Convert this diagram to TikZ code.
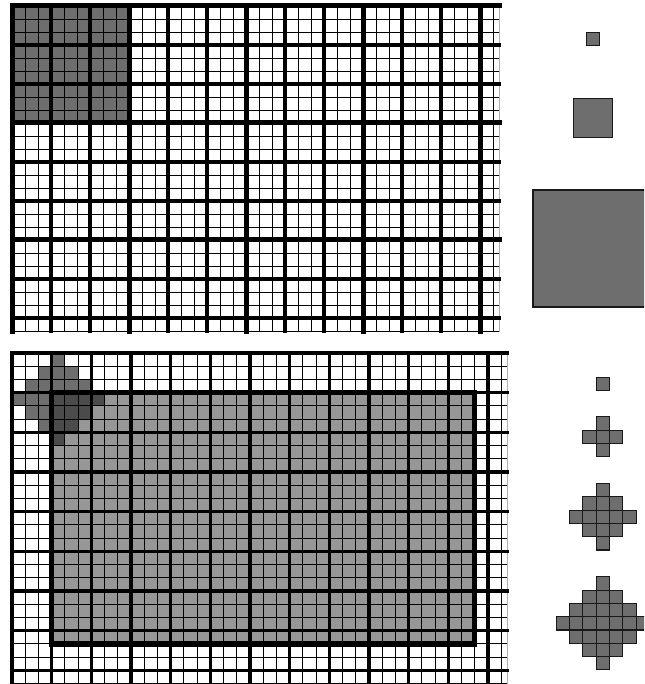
\documentclass[tikz,border=0pt]{standalone}
\definecolor{gtop}{HTML}{6E6E6E}
\definecolor{grect}{HTML}{979797}
\definecolor{gdark}{HTML}{4B4B4B}
\definecolor{gedge}{HTML}{B0B0B0}
\newcommand\bcell{13.22}
\newcommand\tcell{13}
\newcommand\rcell{13.3}
\newcommand\diacells[4]{% cx cy radius cell
  \foreach \a in {-#3,...,#3}{
    \foreach \b in {-#3,...,#3}{
      \pgfmathtruncatemacro\dd{abs(\a)+abs(\b)}
      \ifnum\dd>#3\relax\else
        \filldraw[shp] ({#1+(\a-0.5)*#4},{#2+(\b-0.5)*#4}) rectangle ({#1+(\a+0.5)*#4},{#2+(\b+0.5)*#4});
      \fi
    }
  }
}
\begin{document}
\begin{tikzpicture}[x=1pt,y=-1pt,line cap=rect,
  thinln/.style={line width=0.9pt,black},
  medln/.style={line width=3.2pt,black},
  thkln/.style={line width=5pt,black},
  edgeln/.style={line width=1pt,gedge},
  rectln/.style={line width=5.5pt,black},
  shp/.style={fill=gtop,draw=black!90,line width=1.1pt}]
\useasboundingbox (0,0) rectangle (644,684);
\clip (0,0) rectangle (644,684);
\fill[white] (0,0) rectangle (644,684);

% ---------- top grid ----------
\fill[gtop] (12,6) rectangle (129,123);
\foreach \k in {0,...,37} \draw[thinln] ({12+\tcell*\k},6) -- ({12+\tcell*\k},331);
\draw[edgeln] (499,6) -- (499,331);
\foreach \k in {0,...,25} \draw[thinln] (12,{6+\tcell*\k}) -- (499,{6+\tcell*\k});
\foreach \k in {0,3,...,36} \draw[medln] ({12+\tcell*\k},6) -- ({12+\tcell*\k},331);
\foreach \k in {0,3,...,24} \draw[medln] (12,{6+\tcell*\k}) -- (499,{6+\tcell*\k});
\foreach \k in {0,9,...,36} \draw[thkln] ({12+\tcell*\k},6) -- ({12+\tcell*\k},331);
\foreach \k in {0,9,18} \draw[thkln] (12,{6+\tcell*\k}) -- (499,{6+\tcell*\k});

% ---------- bottom grid ----------
\fill[grect] ({12+3*\bcell},{353+3*\bcell}) rectangle ({12+35*\bcell},{353+22*\bcell});
\foreach \i/\j in {3/0,2/1,3/1,4/1,1/2,2/2,3/2,4/2,5/2,0/3,1/3,2/3,1/4,2/4,2/5}
  \fill[gtop] ({12+\i*\bcell},{353+\j*\bcell}) rectangle ({12+(\i+1)*\bcell},{353+(\j+1)*\bcell});
\foreach \i/\j in {3/3,4/3,5/3,6/3,3/4,4/4,5/4,3/5,4/5,3/6}
  \fill[gdark] ({12+\i*\bcell},{353+\j*\bcell}) rectangle ({12+(\i+1)*\bcell},{353+(\j+1)*\bcell});
\foreach \k in {0,...,37} \draw[thinln] ({12+\bcell*\k},353) -- ({12+\bcell*\k},690);
\draw[edgeln] (507,353) -- (507,690);
\foreach \k in {0,...,25} \draw[thinln] (12,{353+\bcell*\k}) -- (507,{353+\bcell*\k});
\foreach \k in {0,3,...,36} \draw[medln] ({12+\bcell*\k},353) -- ({12+\bcell*\k},690);
\foreach \k in {0,3,...,24} \draw[medln] (12,{353+\bcell*\k}) -- (507,{353+\bcell*\k});
\draw[rectln] ({12+3*\bcell},{353+3*\bcell}) rectangle ({12+35*\bcell},{353+22*\bcell});

% ---------- top right squares ----------
\filldraw[shp] (586.3,32.7) rectangle (599.3,45.7);
\filldraw[shp] (573.2,98.2) rectangle (612.2,137.2);
\filldraw[shp] (533,190) rectangle (650,307);

% ---------- bottom right structuring elements ----------
\filldraw[shp] ({602.8-0.5*\rcell},{383.7-0.5*\rcell}) rectangle ({602.8+0.5*\rcell},{383.7+0.5*\rcell});
\diacells{602.8}{436.7}{1}{\rcell}
\diacells{602.8}{516.7}{2}{\rcell}
\diacells{602.8}{623.3}{3}{\rcell}
\end{tikzpicture}
\end{document}
